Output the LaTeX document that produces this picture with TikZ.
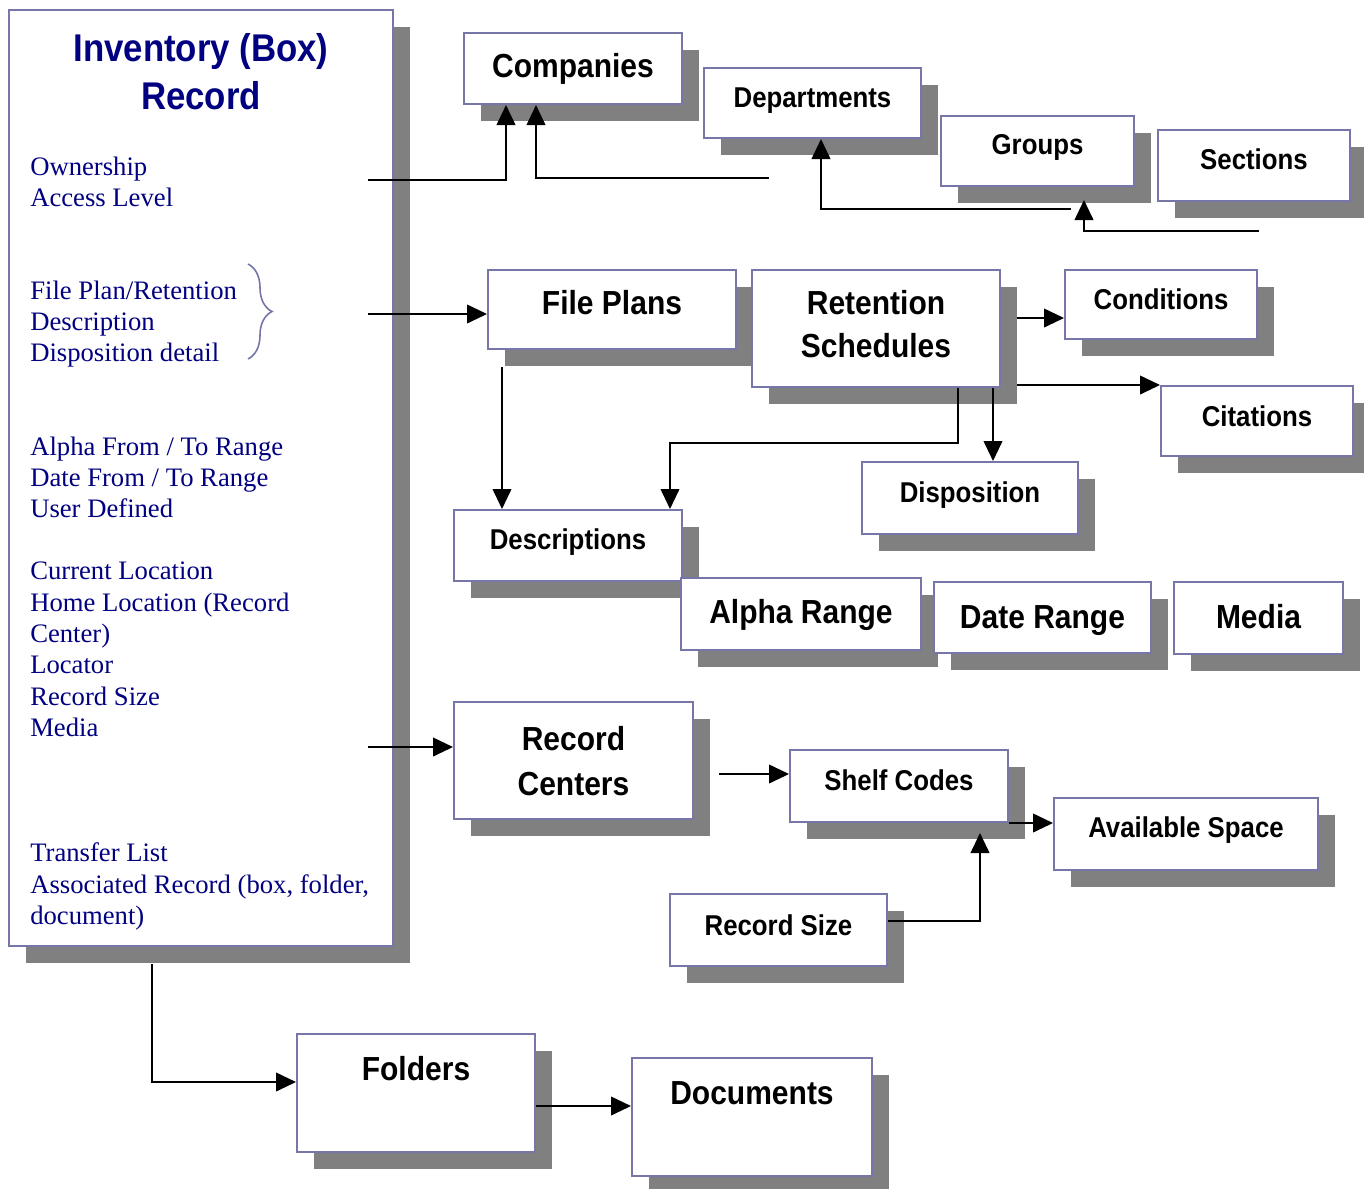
\documentclass[tikz,border=0pt]{standalone}
\usepackage{fontspec}
\setmainfont{Liberation Serif}
\newfontfamily\boxfont{Liberation Sans}[FakeStretch=0.9]
\usetikzlibrary{arrows.meta,fit,shadows,decorations.pathreplacing}
\definecolor{edgeblue}{RGB}{118,118,168}
\definecolor{navytext}{RGB}{0,0,128}
\tikzset{
  entity/.style={draw=edgeblue, line width=1.5pt, fill=white, inner sep=0pt,
    drop shadow={shadow xshift=12.75pt, shadow yshift=-12.75pt, fill=gray, draw=none, opacity=1}},
  titlename/.style={font=\boxfont\bfseries\fontsize{29pt}{36pt}\selectfont, text=navytext, anchor=base, inner sep=0pt},
  bigname/.style={font=\boxfont\bfseries\fontsize{25pt}{30pt}\selectfont, anchor=base, inner sep=0pt},
  smallname/.style={font=\boxfont\bfseries\fontsize{21.5pt}{26pt}\selectfont, anchor=base, inner sep=0pt},
  field/.style={font=\fontsize{20pt}{23pt}\selectfont, text=navytext, anchor=base west, inner sep=0pt},
  arrowline/.style={line width=1.4pt, -{Triangle[length=15pt,width=14pt]}}
}
\begin{document}
\begin{tikzpicture}[x=0.75pt, y=-0.75pt]
  \path[use as bounding box, fill=white] (0,0) rectangle (1364,1189);

  % boxes
  \node[entity, fit={(8.5,10) (393,946)}] (inv) {};
  \node[entity, fit={(464,33) (682,104)}] (comp) {};
  \node[entity, fit={(704,68) (921,138)}] (dept) {};
  \node[entity, fit={(941,116) (1134,186)}] (grp) {};
  \node[entity, fit={(1158,130) (1350,201)}] (sect) {};
  \node[entity, fit={(488,270) (736,349)}] (fplan) {};
  \node[entity, fit={(752,270) (1000,387)}] (ret) {};
  \node[entity, fit={(1065,270) (1257,339)}] (cond) {};
  \node[entity, fit={(1161,386) (1353,456)}] (cit) {};
  \node[entity, fit={(862,462) (1078,534)}] (disp) {};
  \node[entity, fit={(454,510) (682,581)}] (descr) {};
  \node[entity, fit={(681,578) (921,650)}] (alpha) {};
  \node[entity, fit={(934,582) (1151,653)}] (date) {};
  \node[entity, fit={(1174,582) (1343,654)}] (media) {};
  \node[entity, fit={(454,702) (693,819)}] (rcent) {};
  \node[entity, fit={(790,750) (1008,822)}] (shelf) {};
  \node[entity, fit={(1054,798) (1318,870)}] (avail) {};
  \node[entity, fit={(670,894) (887,966)}] (rsize) {};
  \node[entity, fit={(297,1034) (535,1152)}] (fold) {};
  \node[entity, fit={(632,1058) (872,1176)}] (docs) {};

  % box names
  \node[titlename] (title1) at (201,61) {Inventory (Box)};
  \node[titlename] (title2) at (201,109) {Record};
  \node[bigname] (comp-t) at (comp |- 0,77) {Companies};
  \node[smallname] (dept-t) at (dept |- 0,107) {Departments};
  \node[smallname] (grp-t) at (grp |- 0,154) {Groups};
  \node[smallname] (sect-t) at (sect |- 0,169) {Sections};
  \node[bigname] (fplan-t) at (fplan |- 0,314) {File Plans};
  \node[bigname] (ret-t1) at (ret |- 0,314) {Retention};
  \node[bigname] (ret-t2) at (ret |- 0,357) {Schedules};
  \node[smallname] (cond-t) at (cond |- 0,309) {Conditions};
  \node[smallname] (cit-t) at (cit |- 0,426) {Citations};
  \node[smallname] (disp-t) at (disp |- 0,502) {Disposition};
  \node[smallname] (descr-t) at (descr |- 0,549) {Descriptions};
  \node[bigname] (alpha-t) at (alpha |- 0,623) {Alpha Range};
  \node[bigname] (date-t) at (date |- 0,628) {Date Range};
  \node[bigname] (media-t) at (media |- 0,628) {Media};
  \node[bigname] (rcent-t1) at (rcent |- 0,750) {Record};
  \node[bigname] (rcent-t2) at (rcent |- 0,795) {Centers};
  \node[smallname] (shelf-t) at (shelf |- 0,790) {Shelf Codes};
  \node[smallname] (avail-t) at (avail |- 0,837) {Available Space};
  \node[smallname] (rsize-t) at (rsize |- 0,935) {Record Size};
  \node[bigname] (fold-t) at (fold |- 0,1080) {Folders};
  \node[bigname] (docs-t) at (docs |- 0,1104) {Documents};

  % fields of the inventory record
  \foreach \y/\t in {175/Ownership, 206/Access Level, 299/{File Plan/Retention},
      330/Description, 361/Disposition detail, 455/{Alpha From / To Range},
      486/{Date From / To Range}, 517/User Defined, 579/Current Location,
      611/{Home Location (Record}, 642/{Center)}, 673/Locator, 705/Record Size,
      736/Media, 861/Transfer List, 893/{Associated Record (box, folder,},
      924/{document)}}
    \node[field] (field\y) at (30,\y) {\t};
  \draw[edgeblue, line width=1.2pt, decorate, decoration={brace, amplitude=18pt}]
    (248,264) -- (248,359);

  % connectors
  \coordinate (own-out) at (368,180);
  \coordinate (dept-up) at (769,178);
  \coordinate (grp-up) at (1071,209);
  \coordinate (sect-up) at (1259,231);
  \coordinate (grp-tip) at (1084,200);
  \coordinate (plan-out) at (368,314);
  \coordinate (loc-out) at (368,747);
  \coordinate (shelf-tip) at (980,833);

  \draw[arrowline] (own-out) -| (comp.south -| 506,0);
  \draw[arrowline] (dept-up) -| (comp.south -| 536,0);
  \draw[arrowline] (grp-up) -| (dept.south -| 821,0);
  \draw[arrowline] (sect-up) -| (grp-tip);
  \draw[arrowline] (plan-out) -- (plan-out -| fplan.west);
  \draw[arrowline] (fplan.south -| 502,0) ++(0,17) -- (descr.north -| 502,0);
  \draw[arrowline] (ret.south -| 958,0) -- (958,443) -| (descr.north -| 670,0);
  \draw[arrowline] (ret.south -| 993,0) -- (disp.north -| 993,0);
  \draw[arrowline] (ret.east |- 0,318) ++(16,0) -- (cond.west |- 0,318);
  \draw[arrowline] (ret.east |- cit.north) ++(16,0) -- (cit.north west);
  \draw[arrowline] (loc-out) -- (loc-out -| rcent.west);
  \draw[arrowline] (rcent.east |- 0,774) ++(25,0) -- (shelf.west |- 0,774);
  \draw[arrowline] (shelf.south east) -- (shelf.south east -| avail.west);
  \draw[arrowline] (rsize.east |- 0,921) -| (shelf-tip);
  \draw[arrowline] (inv.south -| 152,0) ++(0,17) |- (fold.west |- 0,1082);
  \draw[arrowline] (fold.east |- 0,1106) -- (docs.west |- 0,1106);
\end{tikzpicture}
\end{document}
